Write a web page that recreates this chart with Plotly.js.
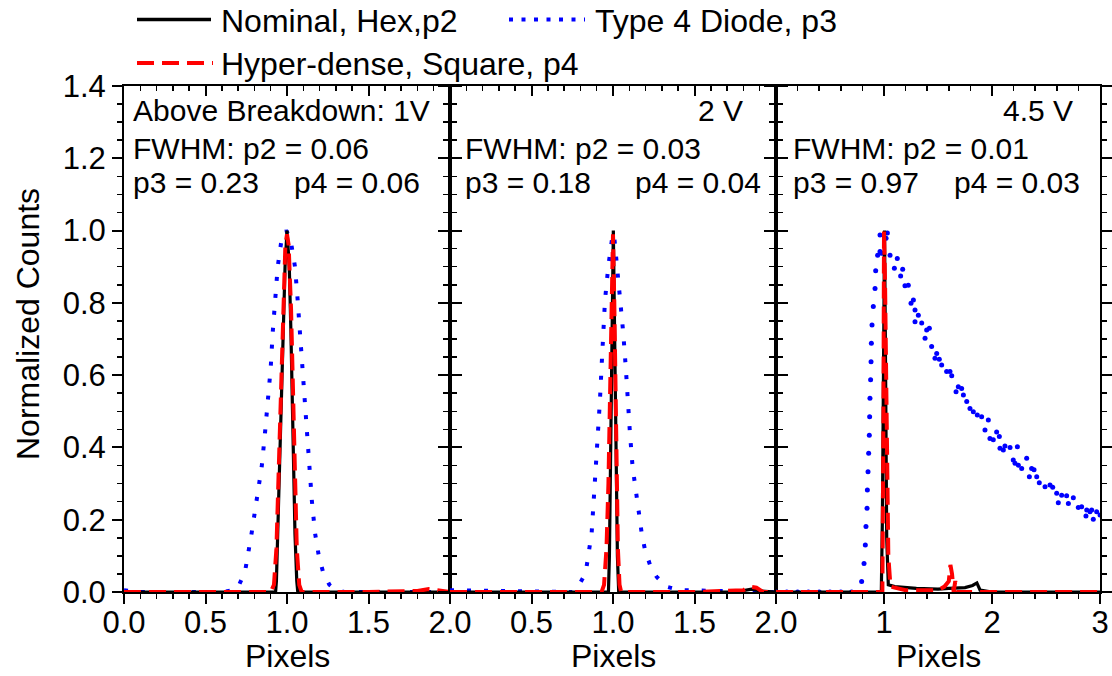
<!DOCTYPE html>
<html>
<head>
<meta charset="utf-8">
<script src="https://cdn.plot.ly/plotly-3.0.1.min.js"></script>
<style>html,body{margin:0;padding:0;background:#fff;}#chart{width:1112px;height:676px;}</style>
</head>
<body>
<div id="chart"></div>
<script>
// ---------------- DATA ----------------
const seriesNames = ['Nominal, Hex,p2', 'Type 4 Diode, p3', 'Hyper-dense, Square, p4'];
const panelLabels = ['Above Breakdown: 1V', '2 V', '4.5 V'];
const fwhmP2 = ['0.06', '0.03', '0.01'];
const fwhmP3 = ['0.23', '0.18', '0.97'];
const fwhmP4 = ['0.06', '0.04', '0.03'];
const xTitle = 'Pixels';
const yTitle = 'Normalized Counts';

const xTickVals1 = [0, 0.5, 1, 1.5, 2];
const xTickText1 = ['0.0', '0.5', '1.0', '1.5', '2.0'];
const xTickVals2 = [0.5, 1, 1.5, 2];
const xTickText2 = ['0.5', '1.0', '1.5', '2.0'];
const xTickVals3 = [1, 2, 3];
const xTickText3 = ['1', '2', '3'];
const yTickVals = [0, 0.2, 0.4, 0.6, 0.8, 1.0, 1.2, 1.4];
const yTickText = ['0.0', '0.2', '0.4', '0.6', '0.8', '1.0', '1.2', '1.4'];

// Panel 1 (1 V)
const p1_p2_x = [0, 0.5, 0.92, 0.93, 0.935, 0.943, 0.957, 0.967, 0.977, 0.988, 1.0, 1.014, 1.024, 1.033, 1.039, 1.049, 1.06, 1.066, 1.08, 1.5, 2.0];
const p1_p2_y = [0, 0, 0, 0.0, 0.03, 0.16, 0.35, 0.53, 0.72, 0.90, 1.0, 0.90, 0.72, 0.53, 0.35, 0.16, 0.03, 0.0, 0, 0, 0];
const p1_p3_x = [0, 0.1, 0.6, 0.675, 0.70, 0.742, 0.783, 0.815, 0.845, 0.865, 0.885, 0.90, 0.912, 0.928, 0.943, 0.965, 0.995, 1.02, 1.049, 1.065, 1.08, 1.093, 1.106, 1.12, 1.135, 1.152, 1.172, 1.195, 1.222, 1.26, 1.294, 1.35, 1.7, 2.0];
const p1_p3_y = [0.005, 0, 0, 0.005, 0.014, 0.055, 0.163, 0.25, 0.347, 0.44, 0.531, 0.62, 0.716, 0.81, 0.90, 0.97, 1.0, 0.98, 0.90, 0.81, 0.716, 0.62, 0.531, 0.44, 0.347, 0.255, 0.163, 0.10, 0.054, 0.02, 0.008, 0, 0, 0];
const p1_p4_x = [0, 0.6, 0.90, 0.92, 0.935, 0.95, 0.962, 0.975, 0.99, 1.0, 1.01, 1.025, 1.037, 1.048, 1.06, 1.075, 1.09, 1.5, 1.8, 1.87, 1.9, 1.95, 2.0];
const p1_p4_y = [0, 0, 0, 0.02, 0.12, 0.35, 0.55, 0.78, 0.96, 0.99, 0.96, 0.78, 0.55, 0.35, 0.12, 0.02, 0, 0, 0.003, 0.008, 0.006, 0.002, 0];

// Panel 2 (2 V)
const p2_p2_x = [0, 0.5, 0.95, 0.972, 0.978, 0.983, 0.987, 0.993, 1.002, 1.009, 1.016, 1.021, 1.027, 1.035, 1.5, 1.75, 1.85, 1.9, 2.0];
const p2_p2_y = [0, 0, 0, 0, 0.1, 0.3, 0.5, 0.75, 1.0, 0.75, 0.5, 0.3, 0.1, 0, 0, 0, 0.008, 0.003, 0];
const p2_p3_x = [0, 0.5, 0.75, 0.777, 0.832, 0.869, 0.883, 0.896, 0.906, 0.92, 0.93, 0.941, 0.951, 0.971, 0.998, 1.006, 1.015, 1.027, 1.047, 1.063, 1.078, 1.09, 1.104, 1.12, 1.145, 1.176, 1.196, 1.231, 1.268, 1.325, 1.41, 1.6, 2.0];
const p2_p3_y = [0.005, 0, 0, 0.008, 0.052, 0.163, 0.255, 0.347, 0.439, 0.531, 0.624, 0.716, 0.808, 0.90, 0.99, 0.99, 0.95, 0.90, 0.808, 0.716, 0.624, 0.531, 0.439, 0.347, 0.255, 0.163, 0.117, 0.07, 0.042, 0.015, 0.005, 0.003, 0];
const p2_p4_x = [0, 0.5, 0.93, 0.945, 0.96, 0.972, 0.982, 0.992, 1.0, 1.008, 1.015, 1.022, 1.03, 1.04, 1.05, 1.5, 1.8, 1.84, 1.88, 1.92, 2.0];
const p2_p4_y = [0, 0, 0, 0.02, 0.12, 0.3, 0.52, 0.8, 0.99, 0.8, 0.52, 0.3, 0.12, 0.02, 0, 0, 0.005, 0.015, 0.012, 0, 0];

// Panel 3 (4.5 V)
const p3_p2_x = [0, 0.5, 0.975, 0.985, 0.995, 1.005, 1.015, 1.025, 1.04, 1.1, 1.3, 1.5, 1.6, 1.75, 1.82, 1.86, 1.89, 2.0, 3.0];
const p3_p2_y = [0, 0, 0, 0.2, 0.7, 1.0, 0.6, 0.15, 0.02, 0.015, 0.01, 0.008, 0.01, 0.012, 0.018, 0.025, 0.005, 0, 0];
const p3_p3_x = [0, 0.1, 0.2, 0.3, 0.4, 0.5, 0.6, 0.7, 0.793, 0.815, 0.827, 0.833, 0.843, 0.846, 0.852, 0.858, 0.864, 0.867, 0.870, 0.876, 0.880, 0.883, 0.889, 0.901, 0.917, 0.923, 0.941, 0.963, 0.963, 0.979, 1.019, 1.031, 1.056, 1.096, 1.123, 1.154, 1.173, 1.194, 1.225, 1.25, 1.272, 1.287, 1.287, 1.318, 1.349, 1.38, 1.395, 1.42, 1.441, 1.472, 1.488, 1.512, 1.534, 1.58, 1.611, 1.627, 1.667, 1.688, 1.719, 1.735, 1.766, 1.796, 1.827, 1.864, 1.904, 1.935, 1.966, 1.981, 2.012, 2.043, 2.068, 2.074, 2.105, 2.12, 2.167, 2.197, 2.213, 2.235, 2.244, 2.275, 2.321, 2.346, 2.367, 2.389, 2.414, 2.438, 2.491, 2.537, 2.562, 2.599, 2.614, 2.645, 2.691, 2.707, 2.753, 2.799, 2.83, 2.87, 2.877, 2.907, 2.923, 2.938, 2.969, 3.0];
const p3_p3_y = [0, 0, 0, 0, 0, 0, 0, 0, 0.029, 0.079, 0.130, 0.181, 0.232, 0.282, 0.333, 0.384, 0.434, 0.485, 0.536, 0.587, 0.637, 0.688, 0.739, 0.79, 0.84, 0.889, 0.932, 0.942, 0.988, 0.937, 0.979, 0.993, 0.932, 0.896, 0.923, 0.874, 0.893, 0.847, 0.849, 0.799, 0.808, 0.780, 0.748, 0.766, 0.744, 0.702, 0.725, 0.73, 0.679, 0.647, 0.66, 0.644, 0.628, 0.61, 0.61, 0.598, 0.554, 0.568, 0.563, 0.545, 0.527, 0.508, 0.499, 0.49, 0.485, 0.448, 0.476, 0.425, 0.421, 0.443, 0.43, 0.398, 0.393, 0.404, 0.40, 0.365, 0.356, 0.402, 0.351, 0.342, 0.37, 0.319, 0.342, 0.338, 0.319, 0.302, 0.291, 0.296, 0.290, 0.273, 0.247, 0.268, 0.266, 0.245, 0.261, 0.234, 0.236, 0.21, 0.227, 0.222, 0.227, 0.201, 0.222, 0.213];
const p3_p4_x = [0, 0.5, 0.985, 0.995, 1.0, 1.01, 1.02, 1.03, 1.04, 1.06, 1.2, 1.5, 1.56, 1.6, 1.615, 1.63, 1.645, 1.66, 1.675, 1.8, 3.0];
const p3_p4_y = [0, 0, 0, 0.5, 1.0, 0.85, 0.5, 0.25, 0.1, 0.015, 0.005, 0.005, 0.015, 0.03, 0.075, 0.05, 0.0, 0.03, 0.0, 0, 0];

// ---------------- STYLE ----------------
const FONT = 'Arial, "Liberation Sans", sans-serif';
const BLACK = '#000000', BLUE = '#0000ff', RED = '#ff0000';
const W = 1112, H = 676, ML = 124, MR = 12, MT = 86, MB = 84;
const PW = W - ML - MR, PH = H - MT - MB;
const b1 = 326 / PW, b2 = 652 / PW;
const blackLine = {color: BLACK, width: 3.2};
const blueLine = {color: BLUE, width: 4, dash: '4px,13px'};
const blueLegend = {color: BLUE, width: 4, dash: '4px,8.5px'};
const redLine = {color: RED, width: 4, dash: '17px,8px'};

const panels = [
  {xa: 'x', ya: 'y', p2x: p1_p2_x, p2y: p1_p2_y, p3x: p1_p3_x, p3y: p1_p3_y, p4x: p1_p4_x, p4y: p1_p4_y, markers: false},
  {xa: 'x2', ya: 'y2', p2x: p2_p2_x, p2y: p2_p2_y, p3x: p2_p3_x, p3y: p2_p3_y, p4x: p2_p4_x, p4y: p2_p4_y, markers: false},
  {xa: 'x3', ya: 'y3', p2x: p3_p2_x, p2y: p3_p2_y, p3x: p3_p3_x, p3y: p3_p3_y, p4x: p3_p4_x, p4y: p3_p4_y, markers: true}
];

const traces = [];
panels.forEach((p, i) => {
  if (p.markers) {
    traces.push({x: p.p3x, y: p.p3y, xaxis: p.xa, yaxis: p.ya, type: 'scatter', mode: 'markers',
      marker: {color: BLUE, size: 5}, name: seriesNames[1], showlegend: false, hoverinfo: 'skip'});
  } else {
    traces.push({x: p.p3x, y: p.p3y, xaxis: p.xa, yaxis: p.ya, type: 'scatter', mode: 'lines',
      line: blueLine, name: seriesNames[1], showlegend: false, hoverinfo: 'skip'});
  }
  traces.push({x: p.p2x, y: p.p2y, xaxis: p.xa, yaxis: p.ya, type: 'scatter', mode: 'lines',
    line: blackLine, name: seriesNames[0], showlegend: false, hoverinfo: 'skip'});
  traces.push({x: p.p4x, y: p.p4y, xaxis: p.xa, yaxis: p.ya, type: 'scatter', mode: 'lines',
    line: redLine, name: seriesNames[2], showlegend: false, hoverinfo: 'skip'});
});
// dummy traces for top (inside-tick) overlay axes
[['x4', 'y'], ['x5', 'y2'], ['x6', 'y3']].forEach(a => {
  traces.push({x: [null], y: [null], xaxis: a[0], yaxis: a[1], type: 'scatter', mode: 'lines', showlegend: false, hoverinfo: 'skip'});
});

const tickFont = {family: FONT, size: 31, color: BLACK};
const titleFont = {family: FONT, size: 32, color: BLACK};

function xBottom(domain, range, vals, text, minorDtick, anchor) {
  return {domain: domain, range: range, anchor: anchor, tickmode: 'array', tickvals: vals, ticktext: text,
    ticks: 'outside', ticklen: 10, tickwidth: 2, tickcolor: BLACK, ticklabelstandoff: -8,
    minor: {tickmode: 'linear', tick0: 0, dtick: minorDtick, ticks: 'outside', ticklen: 5, tickwidth: 1.5, tickcolor: BLACK, showgrid: false},
    showline: true, linewidth: 2, linecolor: BLACK, mirror: false, showgrid: false, zeroline: false,
    tickfont: tickFont, automargin: false};
}
function xTop(over, range, vals, minorDtick, anchor) {
  return {overlaying: over, anchor: anchor, side: 'top', range: range, tickmode: 'array', tickvals: vals,
    ticks: 'inside', ticklen: 10, tickwidth: 2, tickcolor: BLACK, showticklabels: false,
    minor: {tickmode: 'linear', tick0: 0, dtick: minorDtick, ticks: 'inside', ticklen: 5, tickwidth: 1.5, tickcolor: BLACK, showgrid: false},
    showline: true, linewidth: 2, linecolor: BLACK, showgrid: false, zeroline: false};
}
function yAx(anchor, labels) {
  return {domain: [0, 1], range: [0, 1.4], anchor: anchor, tickmode: 'array', tickvals: yTickVals, ticktext: yTickText,
    ticks: 'outside', ticklen: 10, tickwidth: 2, tickcolor: BLACK,
    minor: {tickmode: 'linear', tick0: 0, dtick: 0.05, ticks: 'outside', ticklen: 5, tickwidth: 1.5, tickcolor: BLACK, showgrid: false},
    showline: true, linewidth: 2, linecolor: BLACK, mirror: 'ticks', showgrid: false, zeroline: false,
    showticklabels: labels, tickfont: tickFont, automargin: false};
}

// helpers: pixel -> paper coordinates (layout positions only)
const px = v => (v - ML) / PW;
const py = v => (H - MB - v) / PH;

// annotations
const annFont = {family: FONT, size: 30, color: BLACK};
const yRow0 = 1.331, yRow1 = 1.226, yRow2 = 1.132;
const annLeftX = [0.043, 0.08, 0.136];
const annTitleX = [0.043, 1.81, 2.77];
const annTitleAnchor = ['left', 'right', 'right'];
const annP4X = [1.828, 1.92, 2.83];
const annotations = [];
panels.forEach((p, i) => {
  annotations.push({xref: p.xa, yref: p.ya, x: annTitleX[i], y: yRow0, xanchor: annTitleAnchor[i], yanchor: 'middle', text: panelLabels[i], showarrow: false, font: annFont});
  annotations.push({xref: p.xa, yref: p.ya, x: annLeftX[i], y: yRow1, xanchor: 'left', yanchor: 'middle', text: 'FWHM: p2 = ' + fwhmP2[i], showarrow: false, font: annFont});
  annotations.push({xref: p.xa, yref: p.ya, x: annLeftX[i], y: yRow2, xanchor: 'left', yanchor: 'middle', text: 'p3 = ' + fwhmP3[i], showarrow: false, font: annFont});
  annotations.push({xref: p.xa, yref: p.ya, x: annP4X[i], y: yRow2, xanchor: 'right', yanchor: 'middle', text: 'p4 = ' + fwhmP4[i], showarrow: false, font: annFont});
  // axis title under each panel
  annotations.push({xref: p.xa + ' domain', yref: 'paper', x: 0.5, y: py(676), xanchor: 'center', yanchor: 'bottom', text: xTitle, showarrow: false, font: titleFont});
});
// y-axis title
annotations.push({xref: 'paper', yref: 'paper', x: px(28), y: py(324), xanchor: 'center', yanchor: 'middle', textangle: -90, text: yTitle, showarrow: false, font: titleFont});

// custom legend
const legFont = {family: FONT, size: 32, color: BLACK};
const shapes = [
  {type: 'line', xref: 'paper', yref: 'paper', x0: px(137), x1: px(211), y0: py(19.5), y1: py(19.5), line: {color: BLACK, width: 3.5}},
  {type: 'line', xref: 'paper', yref: 'paper', x0: px(509), x1: px(585), y0: py(19.5), y1: py(19.5), line: blueLegend},
  {type: 'line', xref: 'paper', yref: 'paper', x0: px(137), x1: px(213), y0: py(63), y1: py(63), line: redLine}
];
annotations.push({xref: 'paper', yref: 'paper', x: px(219), y: py(21), xanchor: 'left', yanchor: 'middle', text: seriesNames[0], showarrow: false, font: legFont});
annotations.push({xref: 'paper', yref: 'paper', x: px(593), y: py(21), xanchor: 'left', yanchor: 'middle', text: seriesNames[1], showarrow: false, font: legFont});
annotations.push({xref: 'paper', yref: 'paper', x: px(219), y: py(64), xanchor: 'left', yanchor: 'middle', text: seriesNames[2], showarrow: false, font: legFont});

const layout = {
  width: W, height: H,
  margin: {l: ML, r: MR, t: MT, b: MB, pad: 0},
  paper_bgcolor: '#ffffff', plot_bgcolor: '#ffffff',
  showlegend: false,
  font: {family: FONT, color: BLACK},
  xaxis: xBottom([0, b1], [0, 2], xTickVals1, xTickText1, 0.1, 'y'),
  xaxis2: xBottom([b1, b2], [0, 2], xTickVals2, xTickText2, 0.1, 'y2'),
  xaxis3: xBottom([b2, 1], [0, 3], xTickVals3, xTickText3, 0.2, 'y3'),
  xaxis4: xTop('x', [0, 2], xTickVals1, 0.1, 'y'),
  xaxis5: xTop('x2', [0, 2], xTickVals2, 0.1, 'y2'),
  xaxis6: xTop('x3', [0, 3], xTickVals3, 0.2, 'y3'),
  yaxis: yAx('x', true),
  yaxis2: yAx('x2', false),
  yaxis3: yAx('x3', false),
  annotations: annotations,
  shapes: shapes
};

Plotly.newPlot('chart', traces, layout, {staticPlot: true, displayModeBar: false});
</script>
</body>
</html>
